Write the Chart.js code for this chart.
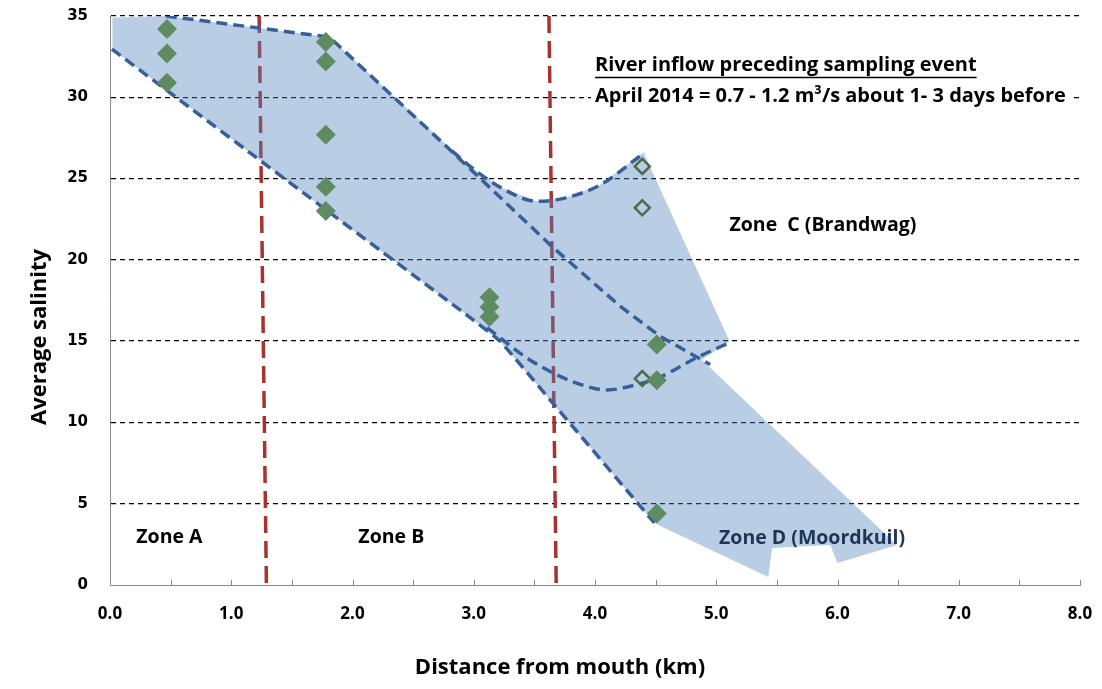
<!DOCTYPE html>
<html>
<head>
<meta charset="utf-8">
<title>Average salinity vs distance from mouth</title>
<script src="https://cdn.jsdelivr.net/npm/chart.js@4.4.1/dist/chart.umd.min.js"></script>
<style>
  html, body { margin: 0; padding: 0; background: #fff; }
  #wrap { width: 1102px; height: 689px; position: relative; }
</style>
</head>
<body>
<div id="wrap"><canvas id="salinityChart"></canvas></div>
<script>
// samples, April 2014 (km from mouth / average salinity)
const stationKm  = [0.47, 0.47, 0.47, 1.78, 1.78, 1.78, 1.78, 1.78, 3.13, 3.13, 3.13, 4.51, 4.51, 4.51];
const salinity   = [34.2, 32.7, 30.9, 33.4, 32.2, 27.7, 24.5, 23.0, 17.7, 17.1, 16.5, 14.8, 12.6, 4.4];

// open diamonds (Brandwag side)
const openKm  = [4.39, 4.39, 4.39];
const openSal = [25.75, 23.2, 12.7];

// shaded envelope, traced round the outline
const envelopeKm  = [0.02, 0.46, 1.81, 2.97, 3.22, 3.52, 3.75, 4.04, 4.40, 5.11, 4.88, 6.49, 6.00, 5.94, 5.46, 5.43, 4.49, 3.65, 3.22, 2.97, 1.81, 0.02];
const envelopeSal = [34.9, 35.0, 33.7, 25.75, 24.46, 23.6, 23.8, 24.6, 26.6, 15.0, 13.86, 2.46, 1.36, 2.46, 2.28, 0.49, 3.8, 11.2, 14.97, 16.45, 22.92, 32.96];

// dashed blue boundary lines
const upperKm      = [0.46, 1.81, 2.80, 3.645, 4.21, 4.54, 4.95];
const upperSal     = [35.0, 33.7, 26.8, 20.82, 17.13, 15.28, 13.56];
const upperBendKm  = [2.82, 2.97, 3.22, 3.52, 3.75, 4.04, 4.41];
const upperBendSal = [26.7, 25.75, 24.46, 23.6, 23.8, 24.6, 26.6];
const lowerKm      = [0.016, 1.81, 2.97, 3.22, 3.65, 4.49];
const lowerSal     = [32.96, 22.92, 16.45, 14.97, 11.21, 3.82];
const lowerBendKm  = [3.11, 3.46, 3.82, 4.10, 4.37, 4.54, 4.84, 5.11];
const lowerBendSal = [15.83, 13.86, 12.5, 12.0, 12.38, 12.8, 13.99, 14.91];

// zone boundaries (red dashed)
const zoneEdgeAKm = [1.23, 1.29];
const zoneEdgeBKm = [3.62, 3.68];
const zoneEdgeSal = [35, 0];

// text on the plot
const zoneNames    = ['Zone A', 'Zone B', 'Zone  C (Brandwag)', 'Zone D (Moordkuil)'];
const zoneLabelKm  = [0.49, 2.32, 5.88, 5.79];
const zoneLabelSal = [2.9, 2.9, 22.1, 2.85];
const noteLines    = ['River inflow preceding sampling event', 'April 2014 = 0.7 - 1.2 m\u00B3/s about 1- 3 days before'];
const noteKm       = [4.0, 4.0];
const noteSal      = [31.95, 30.05];

const yTicks = [0, 5, 10, 15, 20, 25, 30, 35];

function pts(xs, ys) {
  return xs.map((x, i) => ({x: x, y: ys[i]}));
}

const lineBlue = '#37609a';
const blueDash = [11, 6];
const txtFont = '"Open Sans", "Noto Sans", sans-serif';

// texts, inward ticks and axis titles
const decorPlugin = {
  id: 'decor',
  afterDatasetsDraw(chart) {
    const ctx = chart.ctx;
    const xs = chart.scales.x, ys = chart.scales.y;
    ctx.save();
    ctx.textBaseline = 'middle';

    // zone labels
    ctx.font = 'bold 19.5px ' + txtFont;
    ctx.textAlign = 'center';
    zoneNames.forEach((name, i) => {
      ctx.fillStyle = i === 3 ? '#1f3556' : '#000';
      ctx.fillText(name, xs.getPixelForValue(zoneLabelKm[i]), ys.getPixelForValue(zoneLabelSal[i]));
    });

    // river inflow note
    ctx.font = 'bold 20px ' + txtFont;
    ctx.textAlign = 'left';
    noteLines.forEach((t, i) => {
      const px = xs.getPixelForValue(noteKm[i]);
      const py = ys.getPixelForValue(noteSal[i]);
      const w = ctx.measureText(t).width;
      ctx.fillStyle = '#fff';
      ctx.fillRect(px - 4, py - 12, w + 8, 24);
      ctx.fillStyle = '#000';
      ctx.fillText(t, px, py);
      if (i === 0) {
        ctx.strokeStyle = '#000';
        ctx.lineWidth = 1.5;
        ctx.beginPath();
        ctx.moveTo(px, py + 12);
        ctx.lineTo(px + w, py + 12);
        ctx.stroke();
      }
    });
    ctx.restore();
  },
  afterDraw(chart) {
    const ctx = chart.ctx;
    const xs = chart.scales.x;
    const area = chart.chartArea;
    ctx.save();
    // minor tick marks pointing inward
    ctx.strokeStyle = '#898989';
    ctx.lineWidth = 1;
    xs.ticks.forEach(t => {
      const px = Math.round(xs.getPixelForValue(t.value)) + 0.5;
      ctx.beginPath();
      ctx.moveTo(px, area.bottom);
      ctx.lineTo(px, area.bottom - 5);
      ctx.stroke();
    });

    // axis titles
    ctx.fillStyle = '#000';
    ctx.font = 'bold 22px ' + txtFont;
    ctx.textAlign = 'center';
    ctx.textBaseline = 'middle';
    ctx.fillText('Distance from mouth (km)', 560, 668);
    ctx.translate(40, 337);
    ctx.rotate(-Math.PI / 2);
    ctx.fillText('Average salinity', 0, 0);
    ctx.restore();
  }
};

const ctx1 = document.getElementById('salinityChart');

var salinityChart = new Chart(ctx1, {
  type: 'scatter',
  data: {
    datasets: [
      {
        label: 'samples',
        data: pts(stationKm, salinity),
        pointStyle: 'rectRot',
        pointRadius: 10,
        pointHoverRadius: 10,
        backgroundColor: '#5f8b63',
        borderColor: '#5f8b63',
        borderWidth: 0,
        order: 0
      },
      {
        label: 'Brandwag',
        data: pts(openKm, openSal),
        pointStyle: 'rectRot',
        pointRadius: 7.5,
        pointHoverRadius: 7.5,
        backgroundColor: 'rgba(0,0,0,0)',
        borderColor: '#4b6b4d',
        borderWidth: 2.5,
        order: 1
      },
      {
        label: 'upper',
        data: pts(upperKm, upperSal),
        showLine: true, pointRadius: 0, tension: 0,
        borderColor: lineBlue, borderWidth: 3.5, borderDash: blueDash,
        order: 2
      },
      {
        label: 'upper bend',
        data: pts(upperBendKm, upperBendSal),
        showLine: true, pointRadius: 0, cubicInterpolationMode: 'monotone',
        borderColor: lineBlue, borderWidth: 3.5, borderDash: blueDash,
        order: 2
      },
      {
        label: 'lower',
        data: pts(lowerKm, lowerSal),
        showLine: true, pointRadius: 0, tension: 0.15,
        borderColor: lineBlue, borderWidth: 3.5, borderDash: blueDash,
        order: 2
      },
      {
        label: 'lower bend',
        data: pts(lowerBendKm, lowerBendSal),
        showLine: true, pointRadius: 0, cubicInterpolationMode: 'monotone',
        borderColor: lineBlue, borderWidth: 3.5, borderDash: blueDash,
        order: 2
      },
      {
        label: 'envelope',
        data: pts(envelopeKm, envelopeSal),
        showLine: true, pointRadius: 0, tension: 0,
        borderWidth: 0, borderColor: 'rgba(0,0,0,0)',
        fill: 'shape',
        backgroundColor: 'rgba(79,129,189,0.4)',
        order: 3
      },
      {
        label: 'zone edge A',
        data: pts(zoneEdgeAKm, zoneEdgeSal),
        showLine: true, pointRadius: 0,
        borderColor: '#a8322f', borderWidth: 3.5, borderDash: [17, 8],
        order: 4
      },
      {
        label: 'zone edge B',
        data: pts(zoneEdgeBKm, zoneEdgeSal),
        showLine: true, pointRadius: 0,
        borderColor: '#a8322f', borderWidth: 3.5, borderDash: [17, 8],
        order: 4
      }
    ]
  },
  options: {
    responsive: true,
    maintainAspectRatio: false,
    animation: false,
    layout: { padding: { top: 16, right: 22, left: 0, bottom: 0 } },
    plugins: {
      legend: { display: false },
      tooltip: { enabled: false }
    },
    scales: {
      x: {
        type: 'linear',
        min: 0,
        max: 8,
        afterFit: (scale) => { scale.height = 104; },
        grid: { display: false, drawTicks: true, tickLength: 19, tickColor: 'rgba(0,0,0,0)' },
        border: { display: true, color: '#898989', width: 1 },
        ticks: {
          stepSize: 0.5,
          autoSkip: false,
          maxRotation: 0,
          padding: 0,
          color: '#000',
          font: { family: txtFont, weight: 'bold', size: 17 },
          callback: (v) => Number.isInteger(v) ? v.toFixed(1) : ''
        }
      },
      y: {
        type: 'linear',
        min: 0,
        max: 35,
        afterFit: (scale) => { scale.width = 110; },
        afterBuildTicks: (scale) => { scale.ticks = yTicks.map(v => ({value: v})); },
        grid: {
          drawTicks: true,
          tickLength: 22,
          tickColor: 'rgba(0,0,0,0)',
          color: (c) => c.tick && c.tick.value === 0 ? 'rgba(0,0,0,0)' : '#000',
          lineWidth: 1.3
        },
        border: { display: true, color: '#898989', width: 1, dash: [5, 4] },
        ticks: {
          padding: 0,
          color: '#000',
          font: { family: '"DejaVu Sans", sans-serif', weight: 'bold', size: 15 }
        }
      }
    }
  },
  plugins: [decorPlugin]
});
</script>
</body>
</html>
